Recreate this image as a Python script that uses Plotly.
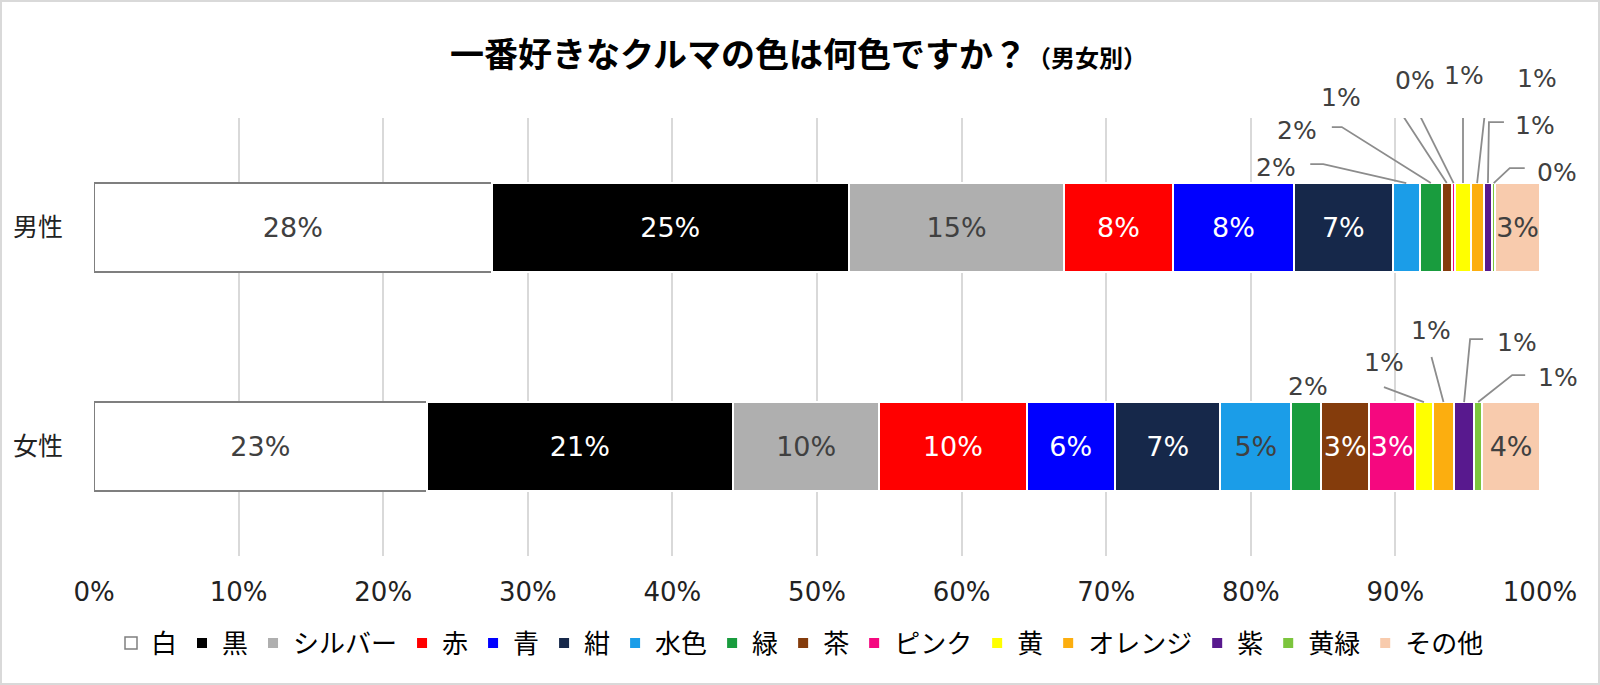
import math
import plotly.graph_objects as go

# ---------------- data ----------------
genders = ["男性", "女性"]
color_names = ["白", "黒", "シルバー", "赤", "青", "紺", "水色", "緑", "茶",
               "ピンク", "黄", "オレンジ", "紫", "黄緑", "その他"]
male = [27.5, 24.7, 14.9, 7.5, 8.4, 6.8, 1.9, 1.5, 0.7, 0.25, 1.05, 0.9, 0.6, 0.2, 3.1]
female = [23.0, 21.2, 10.1, 10.2, 6.1, 7.3, 4.9, 2.05, 3.35, 3.15, 1.25, 1.45, 1.4, 0.55, 4.0]
x_ticks = [0, 10, 20, 30, 40, 50, 60, 70, 80, 90, 100]
title_main = "一番好きなクルマの色は何色ですか？"
title_sub = "（男女別）"

# ---------------- styles ----------------
bar_colors = ["#FFFFFF", "#000000", "#AFAFAF", "#FF0000", "#0000FF", "#16284A",
              "#1B9DE8", "#199C3E", "#843C0C", "#F5087F", "#FFFF00", "#FCAE0F",
              "#58198E", "#7CC53D", "#F8CBAD"]
text_colors = ["#404040", "#FFFFFF", "#404040", "#FFFFFF", "#FFFFFF", "#FFFFFF",
               "#404040", "#404040", "#FFFFFF", "#FFFFFF", "#404040", "#404040",
               "#FFFFFF", "#404040", "#404040"]

NUM_FONT = "DejaVu Sans, Noto Sans CJK JP"
JP_FONT = "Noto Sans CJK JP, DejaVu Sans"
BAR_HALF = 0.203  # half bar thickness in category units (1 - bargap) / 2

# callouts: (gender index, color index) -> (text dx, text dy, leader path points) in pixels (y up)
callouts = {
    (0, 6): (-130, 16, [(-96, 19), (-83, 19)]),
    (0, 7): (-134, 53, [(-99, 56), (-89, 56)]),
    (0, 8): (-106, 86, [(-73, 89), (-58, 89)]),
    (0, 9): (-39, 103, [(-38, 76)]),
    (0, 10): (1, 108, [(0, 81)]),
    (0, 11): (60, 105, [(29, 108), (12, 108)]),
    (0, 12): (47, 58, [(16, 61), (1, 61)]),
    (0, 13): (63, 11, [(31, 15), (16, 15)]),
    (1, 7): (2, 16, None),
    (1, 10): (-40, 40, [(-40, 15)]),
    (1, 11): (-12, 72, [(-12, 45)]),
    (1, 12): (53, 60, [(19, 63), (6, 63)]),
    (1, 13): (80, 25, [(47, 27), (34, 27)]),
}


def pct(v):
    return f"{int(math.floor(v + 0.5))}%"


series = [male, female]

fig = go.Figure()
for ci, name in enumerate(color_names):
    vals = [male[ci], female[ci]]
    texts = []
    for gi in range(2):
        texts.append("" if (gi, ci) in callouts else pct(vals[gi]))
    fig.add_trace(go.Bar(
        name=name,
        y=genders,
        x=vals,
        orientation="h",
        marker=dict(color=bar_colors[ci],
                    line=dict(color="#7F7F7F" if ci == 0 else "#FFFFFF",
                              width=1.5 if ci == 0 else 2)),
        text=texts,
        textposition="inside",
        insidetextanchor="middle",
        textangle=0,
        constraintext="none",
        textfont=dict(family=NUM_FONT, size=27, color=text_colors[ci]),
        hoverinfo="skip",
    ))

annotations = []
shapes = []
for (gi, ci), (tdx, tdy, pts) in callouts.items():
    vals = series[gi]
    mid = sum(vals[:ci]) + vals[ci] / 2.0
    ytop = gi - BAR_HALF
    annotations.append(dict(
        x=mid, y=ytop, xref="x", yref="y", text=pct(vals[ci]), showarrow=False,
        xshift=tdx, yshift=tdy, xanchor="center", yanchor="middle",
        font=dict(family=NUM_FONT, size=25, color="#404040"),
    ))
    if pts:
        path = "M " + " L ".join(f"{px},{py}" for px, py in pts) + " L 0,0"
        shapes.append(dict(
            type="path", xref="x", yref="y", xsizemode="pixel", ysizemode="pixel",
            xanchor=mid, yanchor=ytop, path=path,
            line=dict(color="#8C8C8C", width=1.8), layer="above",
        ))

# figure frame
W, H = 1600, 685
ml, mr, mt, mb = 94, 60, 118, 129
pw, ph = W - ml - mr, H - mt - mb
shapes.append(dict(
    type="rect", xref="paper", yref="paper",
    x0=(-ml + 1) / pw, x1=(W - ml - 1) / pw,
    y0=-(mb - 1) / ph, y1=1 + (mt - 1) / ph,
    line=dict(color="#D9D9D9", width=2), fillcolor="rgba(0,0,0,0)", layer="below",
))

fig.update_layout(
    width=W, height=H,
    autosize=False,
    margin=dict(l=ml, r=mr, t=mt, b=mb, autoexpand=False),
    barmode="stack",
    bargap=1 - 2 * BAR_HALF,
    plot_bgcolor="#FFFFFF",
    paper_bgcolor="#FFFFFF",
    title=dict(
        text=f"{title_main}<span style='font-size:24px'>{title_sub}</span>",
        x=0.499, xref="container", xanchor="center",
        y=1 - 55 / H, yref="container", yanchor="middle",
        font=dict(family=JP_FONT, size=34, color="#000000", weight="bold"),
    ),
    xaxis=dict(
        range=[0, 100], tickvals=x_ticks, ticktext=[f"{t}%" for t in x_ticks],
        showgrid=True, gridcolor="#D9D9D9", gridwidth=1.5,
        zeroline=False, showline=False, ticks="", tickangle=0,
        tickfont=dict(family=NUM_FONT, size=26, color="#222222"),
        ticklabelstandoff=18, fixedrange=True, automargin=False,
    ),
    yaxis=dict(
        type="category", categoryarray=genders, range=[1.5, -0.5],
        showgrid=False, zeroline=False, showline=False, ticks="",
        tickfont=dict(family=JP_FONT, size=25, color="#222222"),
        ticklabelstandoff=30, fixedrange=True, automargin=False,
    ),
    legend=dict(
        orientation="h", x=(800 - ml) / pw, xref="paper", xanchor="center",
        y=-(643 - (mt + ph)) / ph, yref="paper", yanchor="middle",
        font=dict(family=JP_FONT, size=26, color="#000000"),
        traceorder="normal", itemclick=False, itemdoubleclick=False,
        bgcolor="rgba(0,0,0,0)",
    ),
    annotations=annotations,
    shapes=shapes,
    showlegend=True,
)

fig.write_html(
    "out.html",
    config={"displayModeBar": False},
    post_script="document.body.style.margin='0px';document.body.style.overflow='hidden';",
)
